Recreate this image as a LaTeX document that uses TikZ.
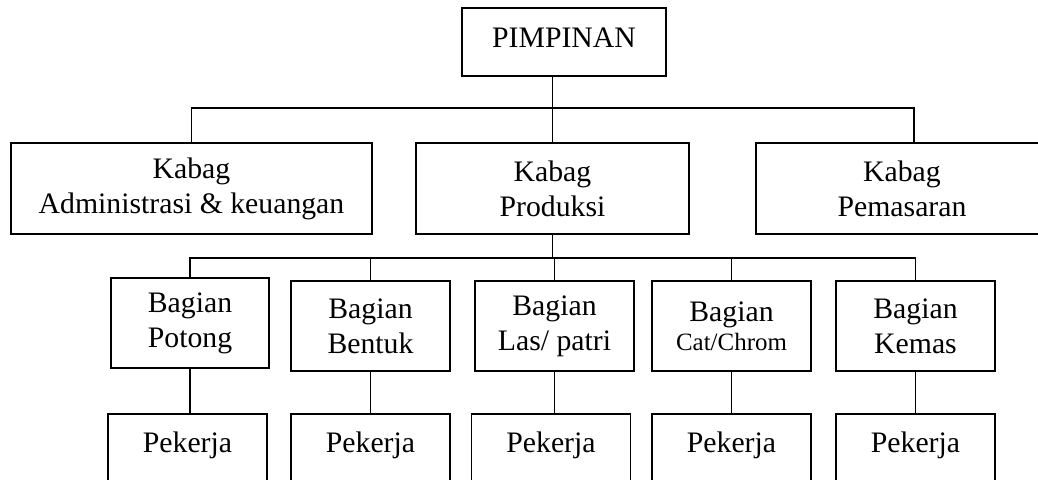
\documentclass[tikz,border=0pt]{standalone}
\usepackage{fontspec}
\setmainfont{Liberation Serif}

\tikzset{every picture/.style={line width=0.75pt}}
\tikzset{
  kotak/.style={draw, line width=1.4pt, inner sep=0pt, align=center, font=\fontsize{22.3}{26.3}\selectfont},
  garis/.style={line width=1.3pt},
}

\begin{document}
\begin{tikzpicture}[x=0.75pt,y=0.75pt,yscale=-1,xscale=1]
\useasboundingbox (0,0) rectangle (1038,479);

%Shape: Rectangle [pimpinan]
\node [kotak, anchor=base, minimum width=153pt, text height=29.25pt, text depth=21.75pt] (pimpinan) at (564,47) {PIMPINAN};

%Shape: Rectangle [kabag]
\node [kotak, minimum width=270.75pt, minimum height=68.25pt] (admin) at (191.5,188.5) {Kabag\\Administrasi \& keuangan};
\node [kotak, minimum width=204.75pt, minimum height=68.25pt] (produksi) at (552.5,188.5) {Kabag\\Produksi};
\node [kotak, minimum width=219pt, minimum height=68.25pt] (pemasaran) at (902,188.5) {Kabag\\Pemasaran};

%Shape: Rectangle [bagian]
\node [kotak, minimum width=118.5pt, minimum height=67.5pt] (potong) at (190,323) {Bagian\\Potong};
\node [kotak, minimum width=119.25pt, minimum height=67.5pt] (bentuk) at (370.5,326) {Bagian\\Bentuk};
\node [kotak, minimum width=119.25pt, minimum height=67.5pt] (las) at (554.5,326) {Bagian\\Las/ patri};
\node [kotak, minimum width=119.25pt, minimum height=67.5pt] (cat) at (731.5,326) {Bagian\\[-4.5pt]{\fontsize{18.7}{22}\selectfont Cat/Chrom}};
\node [kotak, minimum width=119.25pt, minimum height=67.5pt] (kemas) at (915.5,326) {Bagian\\Kemas};

%Shape: Rectangle [pekerja]
\node [kotak, anchor=base, minimum width=119.25pt, text height=28.5pt, text depth=30pt] (pek1) at (187.5,452) {Pekerja};
\node [kotak, anchor=base, minimum width=119.25pt, text height=28.5pt, text depth=30pt] (pek2) at (370.5,452) {Pekerja};
\node [kotak, anchor=base, minimum width=119.25pt, text height=28.5pt, text depth=30pt] (pek3) at (551,452) {Pekerja};
\node [kotak, anchor=base, minimum width=119.25pt, text height=28.5pt, text depth=30pt] (pek4) at (731.5,452) {Pekerja};
\node [kotak, anchor=base, minimum width=119.25pt, text height=28.5pt, text depth=30pt] (pek5) at (915.5,452) {Pekerja};

%Straight Lines [pimpinan - kabag]
\coordinate (bus1) at ([yshift=-25.5pt]produksi.north);
\draw [garis] (pimpinan.south -| produksi.north) -- (produksi.north) ;
\draw [garis] (admin.north) |- (bus1) -| ([xshift=9pt]pemasaran.north) ;

%Straight Lines [produksi - bagian]
\coordinate (bus2) at ([yshift=17.25pt]produksi.south);
\draw [garis] (produksi.south) -- (bus2) ;
\draw [garis] (potong.north) |- (bus2) -| (kemas.north) ;
\draw [garis] (bentuk.north) -- (bentuk.north |- bus2) ;
\draw [garis] (las.north) -- (las.north |- bus2) ;
\draw [garis] (cat.north) -- (cat.north |- bus2) ;

%Straight Lines [bagian - pekerja]
\draw [garis] (potong.south) -- (potong.south |- pek1.north) ;
\draw [garis] (bentuk.south) -- (pek2.north) ;
\draw [garis] (las.south) -- (las.south |- pek3.north) ;
\draw [garis] (cat.south) -- (pek4.north) ;
\draw [garis] (kemas.south) -- (pek5.north) ;

\end{tikzpicture}
\end{document}
